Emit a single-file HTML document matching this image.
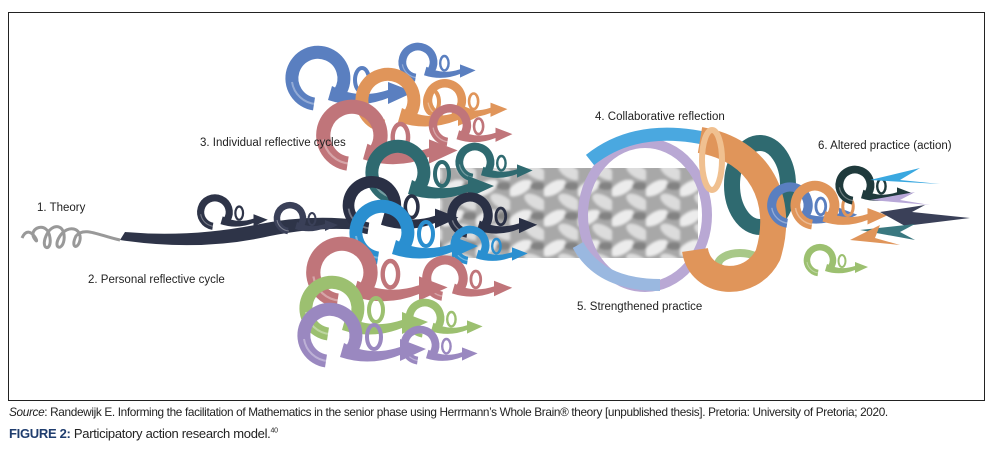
<!DOCTYPE html>
<html><head><meta charset="utf-8"><style>
body{margin:0;background:#fff;width:1000px;height:451px;overflow:hidden;font-family:"Liberation Sans",sans-serif;}
.frame{position:absolute;left:8px;top:12px;width:975px;height:387px;border:1.2px solid #222;}
.cap1{position:absolute;left:9px;top:405px;font-size:11.8px;color:#222;white-space:nowrap;letter-spacing:-0.35px}
.cap2{position:absolute;left:9px;top:426px;font-size:13px;color:#222;white-space:nowrap;letter-spacing:-0.3px}
.cap2 b{color:#1f3d6e;font-weight:bold}
</style></head><body>
<div class="frame"></div>
<svg width="1000" height="451" style="position:absolute;left:0;top:0">
<defs>
<pattern id="braid" width="34" height="30" patternUnits="userSpaceOnUse">
<rect width="34" height="30" fill="#a8a8a8"/>
<ellipse cx="10" cy="8" rx="13" ry="6" fill="#ececec" transform="rotate(-30 10 8)"/>
<ellipse cx="26" cy="22" rx="13" ry="6" fill="#dcdcdc" transform="rotate(30 26 22)"/>
<ellipse cx="28" cy="6" rx="8" ry="4" fill="#555" opacity=".45"/>
</pattern>
<filter id="bl"><feGaussianBlur stdDeviation="1.2"/></filter>
<clipPath id="rc"><rect x="440" y="168" width="258" height="90"/></clipPath>
<g id="curl">
<path d="M-4 26 A26 26 0 1 1 22 14" fill="none" stroke="currentColor" stroke-width="13"/>
<path d="M-2 26 A26 26 0 0 1 -26 4" fill="none" stroke="#fff" stroke-width="2" opacity=".35"/>
<path d="M14 8 Q40 22 70 12 L70 4 L96 14 L70 26 L70 20 Q40 32 10 22 Z" fill="currentColor"/>
<ellipse cx="44" cy="2" rx="7" ry="12" fill="none" stroke="currentColor" stroke-width="4"/>
</g>
</defs>

<path d="M22 238 C30 220,42 250,34 238 C28 228,48 220,50 238 C52 252,40 250,46 236 C52 222,66 224,64 240 C62 252,52 248,60 236 C68 224,82 228,80 240 C78 250,70 248,76 236 C84 226,100 236,120 240" fill="none" stroke="#999" stroke-width="3"/>
<path d="M120 240 Q200 252 270 236 Q320 226 360 230 L360 220 Q310 214 260 224 Q190 238 125 232 Z" fill="#2e3448"/>
<use href="#curl" transform="translate(215 212) scale(.55)" style="color:#2e3448"/>
<use href="#curl" transform="translate(290 218) scale(.5)" style="color:#3a4058"/>

<g clip-path="url(#rc)">
<g filter="url(#bl)">
<rect x="430" y="158" width="278" height="110" fill="url(#braid)"/>
</g>
</g>

<use href="#curl" transform="translate(418 62) scale(.6)" style="color:#5a7fc0"/>
<use href="#curl" transform="translate(318 78) scale(1)" style="color:#5a7fc0"/>
<use href="#curl" transform="translate(445 100) scale(.65)" style="color:#e0955a"/>
<use href="#curl" transform="translate(388 100) scale(1)" style="color:#e0955a"/>
<use href="#curl" transform="translate(450 125) scale(.65)" style="color:#c0757a"/>
<use href="#curl" transform="translate(352 135) scale(1.1)" style="color:#c0757a"/>
<use href="#curl" transform="translate(475 162) scale(.6)" style="color:#2f6a70"/>
<use href="#curl" transform="translate(398 172) scale(1)" style="color:#2f6a70"/>
<use href="#curl" transform="translate(470 215) scale(.7)" style="color:#2a3045"/>
<use href="#curl" transform="translate(372 205) scale(.9)" style="color:#2a3045"/>
<use href="#curl" transform="translate(470 245) scale(.6)" style="color:#2a8fd0"/>
<use href="#curl" transform="translate(382 232) scale(1)" style="color:#2a8fd0"/>
<use href="#curl" transform="translate(445 278) scale(.7)" style="color:#c0757a"/>
<use href="#curl" transform="translate(342 272) scale(1.1)" style="color:#c0757a"/>
<use href="#curl" transform="translate(425 318) scale(.6)" style="color:#9cc070"/>
<use href="#curl" transform="translate(332 308) scale(1)" style="color:#9cc070"/>
<use href="#curl" transform="translate(420 345) scale(.6)" style="color:#9a88c0"/>
<use href="#curl" transform="translate(330 335) scale(1)" style="color:#9a88c0"/>

<ellipse cx="645" cy="215" rx="62" ry="72" fill="none" stroke="#b9a8d4" stroke-width="10"/>
<path d="M590 160 Q640 120 720 142" fill="none" stroke="#4aa8e0" stroke-width="13"/>
<path d="M578 245 Q600 285 660 285" fill="none" stroke="#9ab8e0" stroke-width="12"/>
<ellipse cx="740" cy="265" rx="22" ry="12" fill="none" stroke="#a8c888" stroke-width="8"/>
<ellipse cx="760" cy="185" rx="28" ry="42" fill="none" stroke="#2f6a70" stroke-width="16"/>
<path d="M700 140 C760 150,785 200,768 255 C750 290,700 285,695 250" fill="none" stroke="#e0955a" stroke-width="26"/>
<ellipse cx="712" cy="160" rx="10" ry="30" fill="none" stroke="#f0c090" stroke-width="6"/>
<use href="#curl" transform="translate(790 205) scale(.7)" style="color:#5a7fc0"/>
<use href="#curl" transform="translate(815 205) scale(.75)" style="color:#e0955a"/>
<use href="#curl" transform="translate(820 260) scale(.5)" style="color:#9cc070"/>
<use href="#curl" transform="translate(855 185) scale(.6)" style="color:#1f3a3c"/>
<path d="M870 180 L920 168 L900 180 L940 184 Z" fill="#3aa8e0"/>
<path d="M870 200 L915 192 L900 200 L930 205 Z" fill="#b8a8d8"/>
<path d="M880 212 L925 205 L912 212 L970 218 L905 226 Z" fill="#3a4058"/>
<path d="M860 230 L915 224 L900 232 L915 240 Z" fill="#3a7880"/>
<path d="M850 240 L880 225 L875 238 L900 245 Z" fill="#e0955a"/>

<g font-family="Liberation Sans, sans-serif" font-size="11.5" fill="#222">
<text x="37" y="211">1. Theory</text>
<text x="88" y="283">2. Personal reflective cycle</text>
<text x="200" y="146">3. Individual reflective cycles</text>
<text x="595" y="120">4. Collaborative reflection</text>
<text x="577" y="310">5. Strengthened practice</text>
<text x="818" y="149">6. Altered practice (action)</text>
</g>
</svg>
<div class="cap1"><i>Source</i>: Randewijk E. Informing the facilitation of Mathematics in the senior phase using Herrmann’s Whole Brain® theory [unpublished thesis]. Pretoria: University of Pretoria; 2020.</div>
<div class="cap2"><b>FIGURE 2:</b> Participatory action research model.<sup style="font-size:7px">40</sup></div>
</body></html>
